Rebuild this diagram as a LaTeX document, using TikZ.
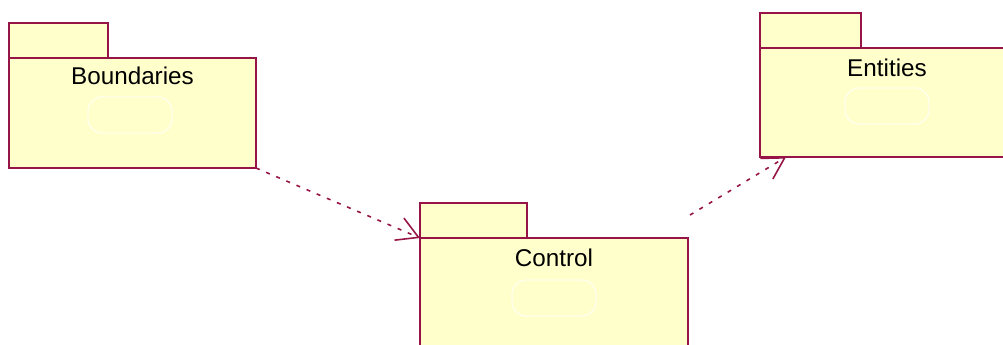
\documentclass[tikz,border=0pt]{standalone}
\usepackage{fontspec}
\setmainfont{Liberation Sans}
\usepackage{tikz}
\usetikzlibrary{calc}
\usetikzlibrary{positioning}
\usetikzlibrary{arrows.meta}
\definecolor{roseborder}{RGB}{150,20,70}
\definecolor{rosefill}{RGB}{255,255,204}
\definecolor{roseghost}{RGB}{255,255,236}
\newcommand{\heighttab}{0.7cm}
\newcommand{\heightbody}{2.2cm}
\tikzset{
    common/.style={draw=roseborder, fill=rosefill, line width=1.1pt, rectangle, inner sep=0pt, outer sep=0pt},
    body/.style={common, anchor=north west, minimum height=\heightbody},
    tab/.style={common, anchor=south west, minimum height=\heighttab},
    title/.style={anchor=center, font=\fontsize{13.8}{16}\selectfont},
    ghost/.style={draw=roseghost, rounded corners=8pt, line width=0.8pt, minimum width=1.68cm, minimum height=0.72cm},
    depends/.style={roseborder, line width=0.9pt, dash pattern=on 0.08cm off 0.14cm,
        -{Straight Barb[length=0.42cm, width=0.48cm]}}
}

\begin{document}
\begin{tikzpicture}
        \clip (0,0) rectangle (20.06,-6.9);

        \path
            (0.18,-1.16) node[body, minimum width=4.94cm] (Boundaries-body) {}
            (Boundaries-body.north west) node[tab, minimum width=1.98cm] (Boundaries-tab) {}
            ([yshift=-0.36cm]Boundaries-body.north) node[title] (Boundaries-title) {Boundaries}
            ([xshift=-0.05cm, yshift=-1.14cm]Boundaries-body.north) node[ghost] (Boundaries-ghost) {};

        \path
            (8.40,-4.76) node[body, minimum width=5.36cm] (Control-body) {}
            (Control-body.north west) node[tab, minimum width=2.14cm] (Control-tab) {}
            ([yshift=-0.40cm]Control-body.north) node[title] (Control-title) {Control}
            ([yshift=-1.20cm]Control-body.north) node[ghost] (Control-ghost) {};

        \path
            (15.20,-0.96) node[body, minimum width=5.08cm, minimum height=2.18cm] (Entities-body) {}
            (Entities-body.north west) node[tab, minimum width=2.02cm] (Entities-tab) {}
            ([yshift=-0.40cm]Entities-body.north) node[title] (Entities-title) {Entities}
            ([yshift=-1.16cm]Entities-body.north) node[ghost] (Entities-ghost) {};

        \coordinate (control-out) at ([xshift=0.04cm, yshift=0.46cm]Control-body.north east);
        \coordinate (entities-in) at ([xshift=0.52cm]Entities-body.south west);

        \draw[depends] (Boundaries-body.south east) -- (Control-body.north west);
        \draw[depends] (control-out) -- (entities-in);
    \end{tikzpicture}
\end{document}
